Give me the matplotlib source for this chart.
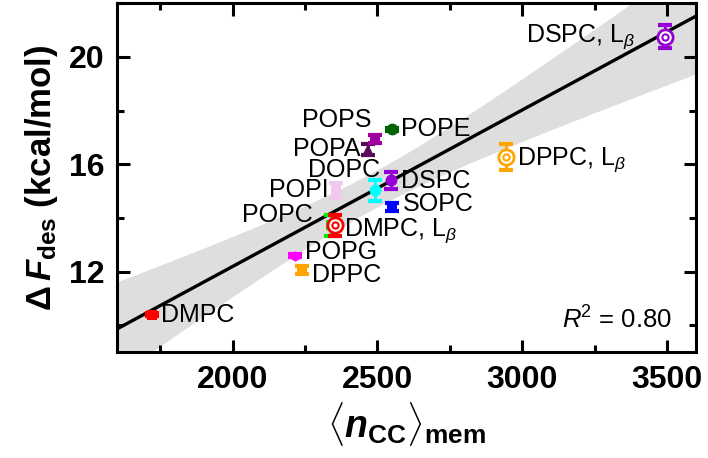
import numpy as np
import matplotlib
matplotlib.use("Agg")
import matplotlib.pyplot as plt
from matplotlib.ticker import MultipleLocator

plt.rcParams['font.family'] = ['Liberation Sans', 'DejaVu Sans']
plt.rcParams['mathtext.fontset'] = 'custom'
plt.rcParams['mathtext.rm'] = 'Liberation Sans:bold'
plt.rcParams['mathtext.bf'] = 'Liberation Sans:bold'
plt.rcParams['mathtext.it'] = 'Liberation Sans:bold:italic'
plt.rcParams['mathtext.sf'] = 'Liberation Sans'
plt.rcParams['mathtext.cal'] = 'Liberation Sans:italic'

# lipid data
names = ["DMPC", "POPG", "DPPC", "POPC", "DMPC, L$\\mathcal{_\\beta}$", "SOPC", "DOPC",
         "POPI", "DSPC", "POPA", "POPS", "POPE", "DPPC, L$\\mathcal{_\\beta}$",
         "DSPC, L$\\mathcal{_\\beta}$"]
ncc = [1720, 2217, 2238, 2338, 2355, 2552, 2490, 2358, 2548, 2469, 2493, 2552, 2945, 3494]
dF = [10.4, 12.6, 12.07, 13.72, 13.72, 14.4, 15.03, 15.03, 15.4, 16.56, 16.93, 17.3, 16.26, 20.75]
dF_err = [0.05, 0.05, 0.15, 0.4, 0.4, 0.15, 0.38, 0.28, 0.33, 0.2, 0.15, 0.05, 0.48, 0.42]
colors = ["#ff0000", "#ff00ff", "#ffa500", "#00ee00", "#ff0000", "#0000ff", "#00ffff",
          "#f0c8f0", "#9400d3", "#5a0a5a", "#a000a0", "#006400", "#ffa500", "#9400d3"]
markers = ["s", "h", "s", "s", "o", "s", "o", "s", "o", "^", "s", "o", "o", "o"]
gel = [False] * 12 + [True, True]
gel[4] = True
# label offsets (pixels) and alignment
offsets = [(9, 0), (10, 4), (10, -5), (-18, 10), (9, -5), (10, 3), (6, 20), (-8, 0),
           (10, -1), (-8, 0), (-4, 19), (9, 0), (11, -2), (-30, 0)]
aligns = ["left", "left", "left", "right", "left", "left", "right", "right",
          "left", "right", "right", "left", "left", "right"]

fig = plt.figure(figsize=(7.08, 4.58), dpi=100)
ax = fig.add_axes([0.165, 0.231, 0.818, 0.762])

x = np.array(ncc, dtype=float)
y = np.array(dF)
p = np.polyfit(x, y, 1)
xs = np.linspace(1600, 3600, 200)
ys = np.polyval(p, xs)
res = y - np.polyval(p, x)
n = len(x)
s = np.sqrt(np.sum(res**2) / (n - 2))
t = 2.179
band = t * s * np.sqrt(1.0 / n + (xs - x.mean())**2 / np.sum((x - x.mean())**2))
ax.fill_between(xs, ys - band, ys + band, color="#dedede", lw=0, zorder=1)
ax.plot(xs, ys, color="black", lw=2.4, zorder=2)

for i in range(n):
    ax.errorbar(ncc[i], dF[i], yerr=dF_err[i], fmt="none", ecolor=colors[i],
                elinewidth=2, capsize=5, capthick=3, zorder=3)
    if gel[i]:
        ax.plot(ncc[i], dF[i], "o", ms=11, mfc="white", mec=colors[i], mew=2, zorder=4)
        ax.plot(ncc[i], dF[i], "o", ms=4.5, mfc="white", mec=colors[i], mew=1.5, zorder=5)
    else:
        ms = 8.5 if markers[i] == "o" else 7.5
        ax.plot(ncc[i], dF[i], markers[i], ms=ms, color=colors[i], mew=0, zorder=4)
    ax.annotate(names[i], (ncc[i], dF[i]), xytext=offsets[i], textcoords="offset pixels",
                ha=aligns[i], va="center", fontsize=18, zorder=6)

ax.text(0.958, 0.092, "$\\mathcal{R}^{\\mathsf{2}}$ = 0.80", transform=ax.transAxes,
        ha="right", va="center", fontsize=18.5)

ax.set_xlim(1600, 3600)
ax.set_ylim(9, 22)
ax.xaxis.set_major_locator(MultipleLocator(500))
ax.xaxis.set_minor_locator(MultipleLocator(250))
ax.yaxis.set_major_locator(MultipleLocator(4))
ax.yaxis.set_minor_locator(MultipleLocator(2))
ax.set_yticks([12, 16, 20])
ax.tick_params(which="both", direction="in", top=True, right=True, width=2.2)
ax.tick_params(which="major", length=9, labelsize=23, pad=9)
ax.tick_params(which="minor", length=5)
for lab in ax.get_xticklabels() + ax.get_yticklabels():
    lab.set_fontweight("bold")
for sp in ax.spines.values():
    sp.set_linewidth(2.2)

ax.set_xlabel("$\\langle \\mathit{n}_{\\mathrm{CC}}\\rangle_{\\mathrm{mem}}$", fontsize=27, labelpad=4)
ax.set_ylabel("$\\Delta\\,\\mathit{F}_{\\mathrm{des}}$ (kcal/mol)", fontsize=25,
              fontweight="bold", labelpad=6)

fig.savefig("out.png", dpi=100)
